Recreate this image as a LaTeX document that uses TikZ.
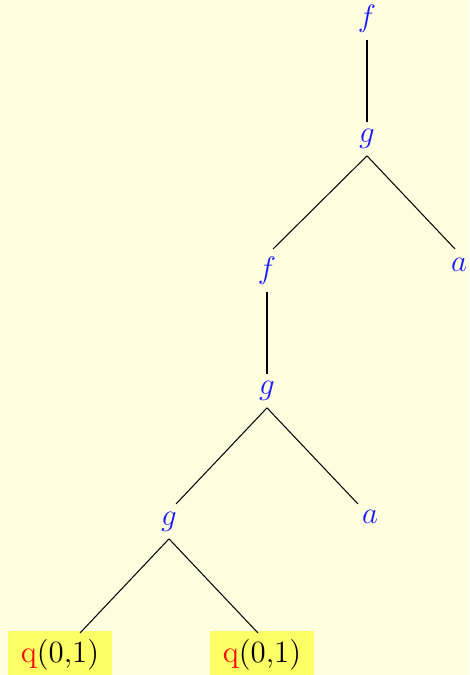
\documentclass[tikz,border=0pt]{standalone}
\usepackage{tikz}
\definecolor{PageBg}{HTML}{FFFFE0}
\definecolor{LeafFill}{HTML}{FFFF66}
\definecolor{SymBlue}{HTML}{1A1AFF}
\newcommand{\leafq}{\textcolor{red}{q}(0,1)}

\begin{document}
\begin{tikzpicture}[
        x=0.01365cm, y=-0.01365cm,
        font=\large,
        sym/.style={text=SymBlue, inner sep=2.6pt},
        leaf/.style={fill=LeafFill, inner xsep=5pt, minimum height=17pt},
        edge/.style={draw=black, line width=0.4pt}
    ]
        \fill[PageBg] (0,0) rectangle (469,675);
        \useasboundingbox (0,0) rectangle (469,675);

        \node[sym] (root) at (367,19) {$f$};
        \node[sym] (gtop) at (367,139) {$g$};
        \node[sym] (fmid) at (267,271) {$f$};
        \node[sym] (atop) at (459,265) {$a$};
        \node[sym] (gmid) at (267,391) {$g$};
        \node[sym] (glow) at (169,522) {$g$};
        \node[sym] (alow) at (370,517) {$a$};
        \node[leaf] (qleft) at (60,655) {\leafq};
        \node[leaf] (qright) at (262,655) {\leafq};

        % upper ends of the slanted edges
        \coordinate (fmid-up) at (273,249);
        \coordinate (atop-up) at (455,249);
        \coordinate (glow-up) at (176,504);
        \coordinate (alow-up) at (358,504);
        \coordinate (qleft-up) at (80,633);
        \coordinate (qright-up) at (258,633);

        \draw[edge] (root) -- (gtop);
        \draw[edge] (gtop.south) -- (fmid-up);
        \draw[edge] (gtop.south) -- (atop-up);
        \draw[edge] (fmid) -- (gmid);
        \draw[edge] (gmid.south) -- (glow-up);
        \draw[edge] (gmid.south) -- (alow-up);
        \draw[edge] (glow.south) -- (qleft-up);
        \draw[edge] (glow.south) -- (qright-up);
\end{tikzpicture}
\end{document}
